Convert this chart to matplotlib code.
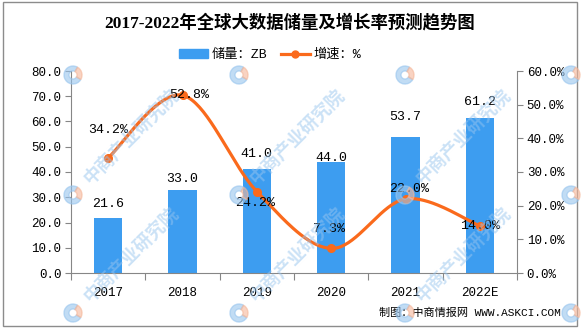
import numpy as np
import matplotlib
matplotlib.use('Agg')
import matplotlib.pyplot as plt
from matplotlib.patches import Rectangle, Wedge
from matplotlib.lines import Line2D
from matplotlib.patches import Patch

# 数据
years = ['2017', '2018', '2019', '2020', '2021', '2022E']
storage = [21.6, 33.0, 41.0, 44.0, 53.7, 61.2]   # 储量 ZB
growth = [34.2, 52.8, 24.2, 7.3, 22.0, 14.0]      # 增速 %

# 标签偏移(像素)
bar_label_dy = [14, 11, 15, 4, 20, 16]
rate_label_off = [(0, 28), (7, 0), (-2, -11), (-2, 19), (4, 10), (0, 0)]

BAR_C = '#3D9DF0'
LINE_C = '#FA6A1C'
AX_C = '#868686'

plt.rcParams['font.family'] = ['Liberation Mono', 'Noto Sans CJK SC']
plt.rcParams['font.size'] = 9


def smooth(x, y, n=40):
    """Catmull-Rom 平滑曲线（类似 Excel 平滑线）"""
    p = np.column_stack([x, y]).astype(float)
    p = np.vstack([p[0], p, p[-1]])
    t = np.linspace(0, 1, n)[:, None]
    out = []
    for i in range(1, len(p) - 2):
        p0, p1, p2, p3 = p[i - 1], p[i], p[i + 1], p[i + 2]
        c1 = p1 + (p2 - p0) / 6
        c2 = p2 - (p3 - p1) / 6
        seg = ((1 - t) ** 3) * p1 + 3 * ((1 - t) ** 2) * t * c1 \
            + 3 * (1 - t) * t ** 2 * c2 + t ** 3 * p2
        out.append(seg)
    out = np.vstack(out)
    return out[:, 0], out[:, 1]


W, H = 581, 330
fig = plt.figure(figsize=(W / 100, H / 100), dpi=100)
ax = fig.add_axes([71 / W, 1 - 273 / H, (517 - 71) / W, (273 - 71) / H])
ax2 = ax.twinx()

x = np.arange(len(years))
bars = ax.bar(x, storage, width=0.38, color=BAR_C, zorder=2)
ax.set_xlim(-0.5, len(years) - 0.5)
ax.set_ylim(0, 80)
ax.set_yticks(np.arange(0, 81, 10))
ax.set_yticklabels([f'{v:.1f}' for v in np.arange(0, 81, 10)])

# x 轴：刻度线在分界处，标签在中间
ax.set_xticks(np.arange(-0.5, len(years), 1))
ax.set_xticklabels([])
ax.set_xticks(x, minor=True)
ax.set_xticklabels(years, minor=True)
ax.tick_params(axis='x', which='major', length=5, color=AX_C, direction='out')
ax.tick_params(axis='x', which='minor', length=0, pad=10, labelsize=9)
ax.tick_params(axis='y', length=4, color=AX_C, direction='out', labelsize=9, pad=3)

for b, v, dy in zip(bars, storage, bar_label_dy):
    ax.annotate(f'{v:.1f}', (b.get_x() + b.get_width() / 2, v),
                xytext=(0, dy * 0.72), textcoords='offset points',
                ha='center', va='center', fontsize=9.5, zorder=5)

sx, sy = smooth(x, growth)
ax2.plot(sx, sy, color=LINE_C, lw=2.3, solid_capstyle='round', zorder=3)
ax2.plot(x, growth, 'o', color=LINE_C, ms=5.5, zorder=4)
ax2.set_ylim(0, 60)
ax2.set_yticks(np.arange(0, 61, 10))
ax2.set_yticklabels([f'{v:.1f}%' for v in np.arange(0, 61, 10)])
ax2.tick_params(axis='y', length=4, color=AX_C, direction='out', labelsize=9, pad=3)

for xi, v, (dx, dy) in zip(x, growth, rate_label_off):
    ax2.annotate(f'{v:.1f}%', (xi, v), xytext=(dx * 0.72, dy * 0.72),
                 textcoords='offset points', ha='center', va='center',
                 fontsize=9.5, zorder=5)

for a in (ax, ax2):
    a.spines['top'].set_visible(False)
    for s in ('left', 'right', 'bottom'):
        a.spines[s].set_color(AX_C)
ax.spines['right'].set_visible(False)
ax2.spines['left'].set_visible(False)
ax2.spines['bottom'].set_visible(False)

fig.text(290 / W, 1 - 23 / H, '2017-2022年全球大数据储量及增长率预测趋势图',
         ha='center', va='center', fontsize=12.5, fontweight='bold',
         family=['Liberation Serif', 'Noto Sans CJK SC'])

handles = [Patch(color=BAR_C, label='储量：ZB'),
           Line2D([0], [0], color=LINE_C, lw=2.3, marker='o', ms=5, label='增速：%')]
fig.legend(handles=handles, loc='center', bbox_to_anchor=(270 / W, 1 - 55 / H),
           ncol=2, frameon=False, fontsize=9.5, handlelength=2.2,
           handleheight=0.7, columnspacing=1.0, handletextpad=0.3)

fig.text(561 / W, 1 - 313 / H, '制图：中商情报网 WWW.ASKCI.COM',
         ha='right', va='center', fontsize=8)

# 水印（只保留完整落在图内的文字）
for lx in (-93, 73, 239, 405, 571):
    for ly in (75, 195, 313):
        tx, ty = lx + 58, ly - 58
        if 55 < tx < 526 and ty > 50:
            fig.text(tx / W, 1 - ty / H, '中商产业研究院', rotation=45,
                     ha='center', va='center', fontsize=13, fontweight='bold',
                     color='#98C5EE', alpha=0.5, family='Noto Sans CJK SC', zorder=10)
        cx, cy = lx / 100, (H - ly) / 100
        fig.add_artist(Wedge((cx, cy), 0.09, 60, 330, width=0.05, color='#98C5EE',
                             alpha=0.6, transform=fig.dpi_scale_trans, zorder=10))
        fig.add_artist(Wedge((cx, cy), 0.09, 330, 60, width=0.05, color='#F5B79A',
                             alpha=0.6, transform=fig.dpi_scale_trans, zorder=10))

# 外边框
fig.add_artist(Rectangle((3 / W, 4 / H), (577 - 3) / W, (H - 6) / H, fill=False,
                         edgecolor='#8C8C8C', lw=1, transform=fig.transFigure))

fig.savefig('out.png', dpi=100)
